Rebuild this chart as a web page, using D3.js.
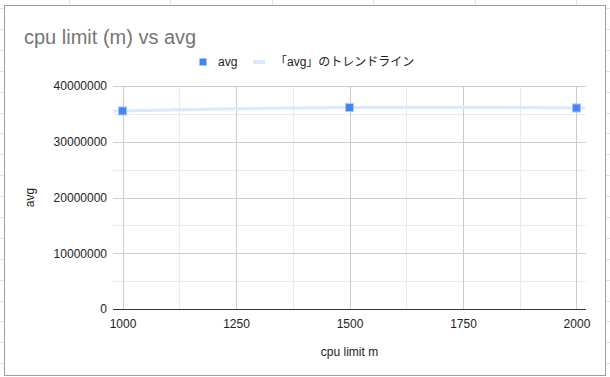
<!DOCTYPE html>
<html>
<head>
<meta charset="utf-8">
<script src="https://cdn.jsdelivr.net/npm/d3@7"></script>
<style>
  body { margin: 0; background: #fff; }
  text { font-family: Arial, "Liberation Sans", sans-serif; }
  .jp { font-family: Arial, "Liberation Sans", "Noto Sans CJK JP", sans-serif; }
</style>
</head>
<body>
<div id="chart"></div>
<script>
// data
const cpuLimits = [1000, 1500, 2000]
const avgValues = [35520000, 36150000, 36060000]
const xTicks = [1000, 1250, 1500, 1750, 2000]
const xMinorTicks = [1125, 1375, 1625, 1875]
const yTicks = [0, 10000000, 20000000, 30000000, 40000000]
const yMinorTicks = [5000000, 15000000, 25000000, 35000000]

const W = 610, H = 377
const PLOT = { LEFT: 113, RIGHT: 586, TOP: 86, BOTTOM: 309 }

const svg = d3.select("#chart").append("svg")
    .attr("width", W)
    .attr("height", H)

// spreadsheet cells behind the chart
const bg = svg.append("g").attr("stroke", "#e2e2e2").attr("stroke-width", 1)
for (let x = 68.7; x < W; x += 101.5) {
    bg.append("line").attr("x1", Math.round(x) + 0.5).attr("x2", Math.round(x) + 0.5).attr("y1", 0).attr("y2", 5)
}
for (let y = 8; y < H; y += 20.9) {
    bg.append("line").attr("x1", 0).attr("x2", 4).attr("y1", Math.round(y) + 0.5).attr("y2", Math.round(y) + 0.5)
    bg.append("line").attr("x1", 606).attr("x2", W).attr("y1", Math.round(y) + 0.5).attr("y2", Math.round(y) + 0.5)
}

// chart box
svg.append("rect")
    .attr("x", 4.5).attr("y", 5.5)
    .attr("width", 601).attr("height", 370)
    .attr("fill", "#fff")
    .attr("stroke", "#9e9e9e")

const x = d3.scaleLinear().domain([979, 2021]).range([PLOT.LEFT, PLOT.RIGHT])
const y = d3.scaleLinear().domain([0, 40000000]).range([PLOT.BOTTOM, PLOT.TOP])

// gridlines
const grid = svg.append("g")
grid.selectAll(".xminor").data(xMinorTicks).enter().append("line")
    .attr("x1", d => Math.round(x(d)) + 0.5).attr("x2", d => Math.round(x(d)) + 0.5)
    .attr("y1", PLOT.TOP).attr("y2", PLOT.BOTTOM)
    .attr("stroke", "#ebebeb")
grid.selectAll(".yminor").data(yMinorTicks).enter().append("line")
    .attr("x1", PLOT.LEFT).attr("x2", PLOT.RIGHT)
    .attr("y1", d => Math.round(y(d)) + 0.5).attr("y2", d => Math.round(y(d)) + 0.5)
    .attr("stroke", "#ebebeb")
grid.selectAll(".xmajor").data(xTicks).enter().append("line")
    .attr("x1", d => Math.round(x(d)) + 0.5).attr("x2", d => Math.round(x(d)) + 0.5)
    .attr("y1", PLOT.TOP).attr("y2", PLOT.BOTTOM)
    .attr("stroke", "#cccccc")
grid.selectAll(".ymajor").data(yTicks.slice(1)).enter().append("line")
    .attr("x1", PLOT.LEFT).attr("x2", PLOT.RIGHT)
    .attr("y1", d => Math.round(y(d)) + 0.5).attr("y2", d => Math.round(y(d)) + 0.5)
    .attr("stroke", "#cccccc")

// axes (labels only, domain drawn separately)
const xAxis = svg.append("g")
    .attr("transform", "translate(0," + PLOT.BOTTOM + ")")
    .call(d3.axisBottom(x).tickValues(xTicks).tickSize(0).tickPadding(10).tickFormat(d3.format("d")))
xAxis.select(".domain").remove()
xAxis.selectAll("text").attr("font-size", 12).attr("fill", "#222").style("font-family", "Arial, 'Liberation Sans', sans-serif")

const yAxis = svg.append("g")
    .attr("transform", "translate(" + PLOT.LEFT + ",0)")
    .call(d3.axisLeft(y).tickValues(yTicks).tickSize(0).tickPadding(6).tickFormat(d3.format("d")))
yAxis.select(".domain").remove()
yAxis.selectAll("text").attr("font-size", 12).attr("fill", "#222").style("font-family", "Arial, 'Liberation Sans', sans-serif")

// baseline
svg.append("line")
    .attr("x1", PLOT.LEFT).attr("x2", PLOT.RIGHT)
    .attr("y1", Math.round(y(0)) + 0.5).attr("y2", Math.round(y(0)) + 0.5)
    .attr("stroke", "#333")

// polynomial (degree 2) trendline, least squares on the data
function quadFit(xs, ys) {
    const n = xs.length
    let s = [0, 0, 0, 0, 0], t = [0, 0, 0]
    for (let i = 0; i < n; i++) {
        const xi = xs[i] - 1500
        for (let k = 0; k < 5; k++) s[k] += Math.pow(xi, k)
        for (let k = 0; k < 3; k++) t[k] += ys[i] * Math.pow(xi, k)
    }
    const A = [[s[0], s[1], s[2]], [s[1], s[2], s[3]], [s[2], s[3], s[4]]]
    const det = m => m[0][0] * (m[1][1] * m[2][2] - m[1][2] * m[2][1])
        - m[0][1] * (m[1][0] * m[2][2] - m[1][2] * m[2][0])
        + m[0][2] * (m[1][0] * m[2][1] - m[1][1] * m[2][0])
    const D = det(A)
    const c = [0, 1, 2].map(j => det(A.map((row, r) => row.map((v, col) => col === j ? t[r] : v))) / D)
    return xv => c[0] + c[1] * (xv - 1500) + c[2] * (xv - 1500) * (xv - 1500)
}
const trend = quadFit(cpuLimits, avgValues)
const trendXs = d3.range(x.domain()[0], x.domain()[1] + 1, 4)

svg.append("path")
    .datum(trendXs)
    .attr("fill", "none")
    .attr("stroke", "#dce8fc")
    .attr("stroke-width", 3)
    .attr("d", d3.line().x(d => x(d)).y(d => y(trend(d))))

// points
svg.selectAll(".pt").data(cpuLimits).enter().append("rect")
    .attr("x", d => x(d) - 4)
    .attr("y", (d, i) => y(avgValues[i]) - 4)
    .attr("width", 8).attr("height", 8)
    .attr("fill", "#4285f4")
    .attr("stroke", "#a8c7fa")
    .attr("stroke-width", 1)

// title
svg.append("text")
    .attr("x", 24).attr("y", 44)
    .attr("font-size", 20)
    .attr("fill", "#757575")
    .text("cpu limit (m) vs avg")

// legend
const legend = svg.append("g")
legend.append("rect").attr("x", 199.5).attr("y", 58.5).attr("width", 7).attr("height", 7).attr("fill", "#4285f4")
legend.append("text").attr("x", 218).attr("y", 66).attr("font-size", 12).attr("fill", "#222").text("avg")
legend.append("line").attr("x1", 253).attr("x2", 265).attr("y1", 62).attr("y2", 62)
    .attr("stroke", "#dce8fc").attr("stroke-width", 4)
legend.append("text").attr("class", "jp").attr("x", 275).attr("y", 66).attr("font-size", 12).attr("fill", "#222")
    .text("「avg」のトレンドライン")

// axis titles
svg.append("text")
    .attr("x", (PLOT.LEFT + PLOT.RIGHT) / 2).attr("y", 356)
    .attr("text-anchor", "middle")
    .attr("font-size", 12).attr("fill", "#222")
    .text("cpu limit m")

svg.append("text")
    .attr("transform", "translate(34," + ((PLOT.TOP + PLOT.BOTTOM) / 2) + ") rotate(-90)")
    .attr("text-anchor", "middle")
    .attr("font-size", 12).attr("fill", "#222")
    .text("avg")
</script>
</body>
</html>
